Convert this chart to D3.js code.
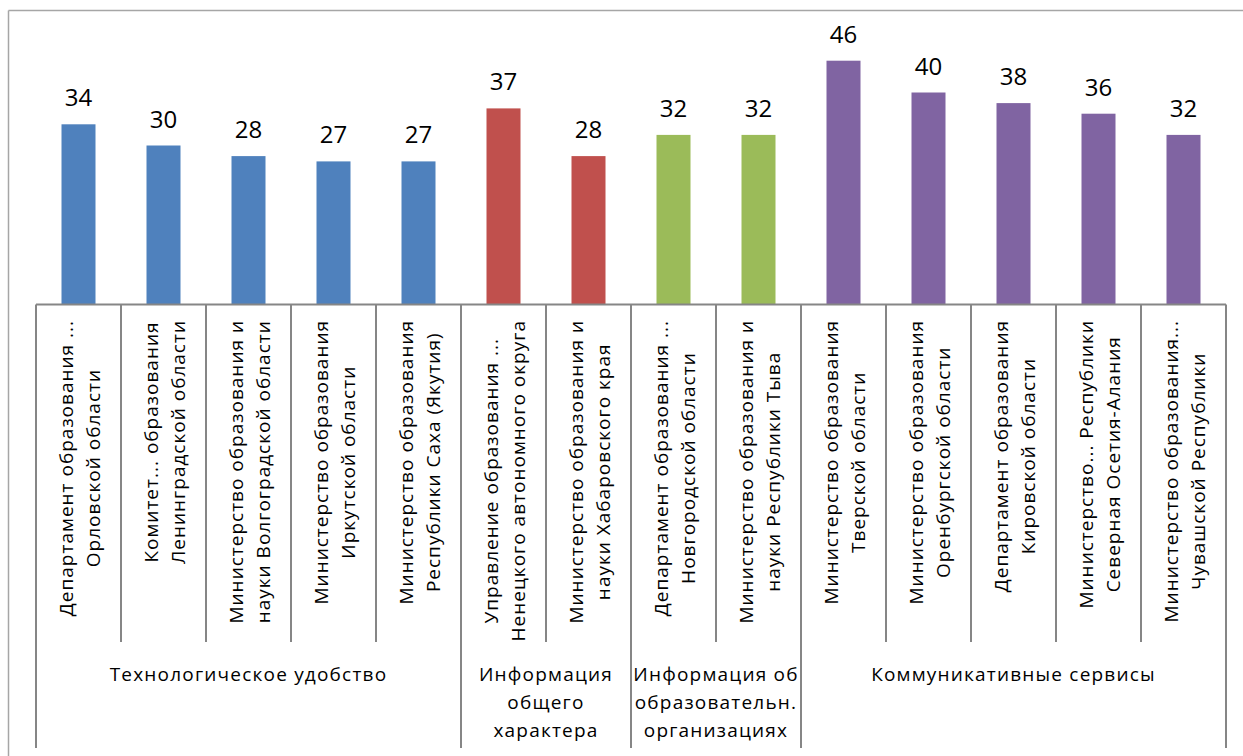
<!DOCTYPE html>
<html>
<head>
<meta charset="utf-8">
<script src="https://cdn.jsdelivr.net/npm/d3@7"></script>
<style>
  body { margin: 0; background: #fff; }
  text { font-family: "Open Sans", "Noto Sans", sans-serif; fill: #000; }
</style>
</head>
<body>
<svg id="chart" width="1243" height="756"></svg>
<script>
// Chart data
const categories = [
  ["Департамент образования ...", "Орловской области"],
  ["Комитет... образования", "Ленинградской области"],
  ["Министерство образования и", "науки Волгоградской области"],
  ["Министерство образования", "Иркутской области"],
  ["Министерство образования", "Республики Саха (Якутия)"],
  ["Управление образования ...", "Ненецкого автономного округа"],
  ["Министерство образования и", "науки Хабаровского края"],
  ["Департамент образования ...", "Новгородской области"],
  ["Министерство образования и", "науки Республики Тыва"],
  ["Министерство образования", "Тверской области"],
  ["Министерство образования", "Оренбургской области"],
  ["Департамент образования", "Кировской области"],
  ["Министерство... Республики", "Северная Осетия-Алания"],
  ["Министерство образования...", "Чувашской Республики"]
];
const values = [34, 30, 28, 27, 27, 37, 28, 32, 32, 46, 40, 38, 36, 32];
const groupLabels = [
  ["Технологическое удобство"],
  ["Информация", "общего", "характера"],
  ["Информация об", "образовательн.", "организациях"],
  ["Коммуникативные сервисы"]
];
const groupSizes = [5, 2, 2, 5];
const groupColors = ["#4F81BD", "#C0504D", "#9BBB59", "#8064A2"];

/*************************************************************
 *  Layout
 *************************************************************/
const svg = d3.select("#chart");
const left = 36, right = 1226, base = 304.5;
const tickBottom = 642, groupBottom = 748;
const axisColor = "#868686";

// group index for every category
const groupOf = [];
groupSizes.forEach((n, g) => { for (let i = 0; i < n; i++) groupOf.push(g); });

const idx = d3.range(values.length);
const x = d3.scaleBand().domain(idx).range([left, right]).padding(0);
const y = d3.scaleLinear().domain([0, 50]).range([base, 39.5]);

// outer frame (top and left edges visible)
svg.append("line").attr("x1", 8.5).attr("y1", 10.5).attr("x2", 1243).attr("y2", 10.5)
  .attr("stroke", "#a6a6a6").attr("stroke-width", 1.5);
svg.append("line").attr("x1", 8.5).attr("y1", 10.5).attr("x2", 8.5).attr("y2", 756)
  .attr("stroke", "#a6a6a6").attr("stroke-width", 1.5);

// bars
const barW = x.bandwidth() * 0.4;
svg.selectAll("rect.bar").data(idx).enter().append("rect")
  .attr("class", "bar")
  .attr("x", i => x(i) + (x.bandwidth() - barW) / 2)
  .attr("width", barW)
  .attr("y", i => y(values[i]))
  .attr("height", i => y(0) - y(values[i]))
  .attr("fill", i => groupColors[groupOf[i]]);

// value labels
svg.selectAll("text.val").data(idx).enter().append("text")
  .attr("class", "val")
  .attr("x", i => x(i) + x.bandwidth() / 2)
  .attr("y", i => y(values[i]) - 18)
  .attr("text-anchor", "middle")
  .style("font-size", "24px")
  .text(i => values[i]);

// axis line
svg.append("line").attr("x1", left).attr("x2", right).attr("y1", base).attr("y2", base)
  .attr("stroke", axisColor).attr("stroke-width", 2);

// category separators (short), group separators (long)
const groupEdges = [0];
groupSizes.forEach(n => groupEdges.push(groupEdges[groupEdges.length - 1] + n));
d3.range(values.length + 1).forEach(k => {
  const xx = left + k * x.step();
  const long = groupEdges.includes(k);
  svg.append("line").attr("x1", xx).attr("x2", xx).attr("y1", base).attr("y2", long ? groupBottom : tickBottom)
    .attr("stroke", axisColor).attr("stroke-width", 2);
});

// category labels, rotated, two lines
const labelTop = 320;
idx.forEach(i => {
  const cx = x(i) + x.bandwidth() / 2;
  const g = svg.append("g");
  const lines = categories[i];
  const offs = [-6, 21];
  const texts = lines.map((ln, j) => g.append("text")
    .style("font-size", "19px")
    .style("letter-spacing", "1px")
    .attr("text-anchor", "middle")
    .text(ln));
  const maxLen = d3.max(texts, t => t.node().getComputedTextLength());
  const cy = labelTop + maxLen / 2;
  texts.forEach((t, j) => {
    t.attr("transform", `translate(${cx + offs[j]},${cy}) rotate(-90)`);
  });
});

// group labels
groupLabels.forEach((lines, g) => {
  const x0 = left + groupEdges[g] * x.step();
  const x1 = left + groupEdges[g + 1] * x.step();
  const t = svg.append("text")
    .attr("text-anchor", "middle")
    .style("font-size", "19px")
    .style("letter-spacing", "1.2px");
  lines.forEach((ln, j) => {
    t.append("tspan").attr("x", (x0 + x1) / 2).attr("y", 681 + j * 28).text(ln);
  });
});
</script>
</body>
</html>
